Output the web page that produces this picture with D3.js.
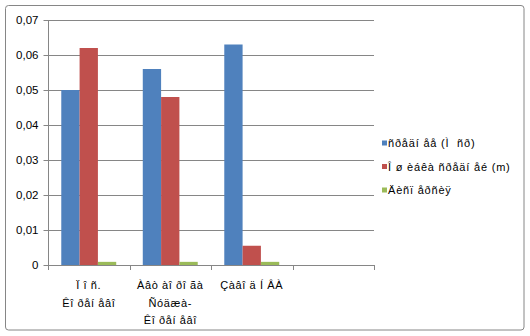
<!DOCTYPE html>
<html>
<head>
<meta charset="utf-8">
<script src="https://cdn.jsdelivr.net/npm/d3@7"></script>
<style>
  html, body { margin: 0; padding: 0; background: #fff; }
  svg { display: block; }
  text { font-family: "Liberation Sans", Arial, sans-serif; fill: #000; white-space: pre; }
</style>
</head>
<body>
<svg id="chart" width="530" height="336"></svg>
<script>
// Categories (each entry is a list of label lines); the last slot is empty
const categories = [
  ["Ï î ñ.", "Êî ðåí åâî"],
  ["Àâò àî ðî ãà", "Ñóäæà-", "Êî ðåí åâî"],
  ["Çàâî ä Í ÂÀ"],
  [""]
];
const seriesNames = ["ñðåäí åå (Ì  ñð)", "Î ø èáêà ñðåäí åé (m)", "Äèñï åðñèÿ"];
const seriesMean = [0.050, 0.056, 0.063, null];
const seriesError = [0.062, 0.048, 0.0055, null];
const seriesVariance = [0.0009, 0.0009, 0.0009, null];
const yTicks = [0, 0.01, 0.02, 0.03, 0.04, 0.05, 0.06, 0.07];
const colors = ["#4F81BD", "#C0504D", "#9BBB59"];

const seriesValues = [seriesMean, seriesError, seriesVariance];
const svg = d3.select("#chart");

// outer frame
svg.append("rect")
  .attr("x", 5.5).attr("y", 5.5).attr("width", 518.5).attr("height", 324.5)
  .attr("rx", 3).attr("fill", "#fff").attr("stroke", "#868686").attr("stroke-width", 1);

const plot = { left: 48, right: 374, top: 20, bottom: 265 };
const catIdx = categories.map((d, i) => i);

const x = d3.scaleBand().domain(catIdx).range([plot.left, plot.right]).paddingInner(0).paddingOuter(0);
const xs = d3.scaleBand().domain(d3.range(seriesNames.length)).range([0, x.bandwidth()])
  .paddingInner(0).paddingOuter(0.725);
const y = d3.scaleLinear().domain([0, 0.07]).range([plot.bottom, plot.top]);

const locale = d3.formatLocale({ decimal: ",", thousands: " ", grouping: [3], currency: ["", ""] });
const fmt = locale.format(".2f");

// horizontal gridlines
svg.append("g").selectAll("line")
  .data(yTicks.filter(d => d > 0))
  .join("line")
  .attr("x1", plot.left).attr("x2", plot.right)
  .attr("y1", d => Math.round(y(d)) + 0.5).attr("y2", d => Math.round(y(d)) + 0.5)
  .attr("stroke", "#868686").attr("stroke-width", 1);

// bars
const barG = svg.append("g");
seriesValues.forEach((vals, s) => {
  barG.append("g").selectAll("rect")
    .data(vals.map((v, i) => ({ v, i })).filter(d => d.v != null))
    .join("rect")
    .attr("x", d => x(d.i) + xs(s))
    .attr("width", xs.bandwidth())
    .attr("y", d => y(d.v))
    .attr("height", d => y(0) - y(d.v))
    .attr("fill", colors[s]);
});

// y axis
const yAxis = svg.append("g")
  .attr("transform", `translate(${plot.left + 0.5},0)`)
  .call(d3.axisLeft(y).tickValues(yTicks).tickSize(5).tickPadding(5)
    .tickFormat(d => d === 0 ? "0" : fmt(d)));
yAxis.selectAll("path, line").attr("stroke", "#868686");
yAxis.select(".domain").attr("d", `M0,${plot.top}V${plot.bottom}`);
yAxis.selectAll("text").attr("font-size", "11.5px").attr("fill", "#000")
  .style("font-family", '"Liberation Sans", Arial, sans-serif');

// x axis line and category separators
const xg = svg.append("g");
xg.append("line")
  .attr("x1", plot.left).attr("x2", plot.right)
  .attr("y1", plot.bottom + 0.5).attr("y2", plot.bottom + 0.5)
  .attr("stroke", "#868686");
xg.selectAll("line.sep")
  .data(catIdx.concat([catIdx.length]))
  .join("line").attr("class", "sep")
  .attr("x1", d => Math.round(d < catIdx.length ? x(d) : plot.right) + 0.5)
  .attr("x2", d => Math.round(d < catIdx.length ? x(d) : plot.right) + 0.5)
  .attr("y1", plot.bottom).attr("y2", plot.bottom + 5)
  .attr("stroke", "#868686");

// category labels
categories.forEach((lines, i) => {
  const t = svg.append("text")
    .attr("text-anchor", "middle")
    .attr("font-size", "11px")
    .attr("letter-spacing", "0.6px");
  lines.forEach((ln, k) => {
    t.append("tspan")
      .attr("x", x(i) + x.bandwidth() / 2)
      .attr("y", 289 + k * 17.5)
      .text(ln);
  });
});

// legend
const legend = svg.append("g").attr("transform", "translate(382,143)");
seriesNames.forEach((name, s) => {
  const g = legend.append("g").attr("transform", `translate(0,${s * 23.5})`);
  g.append("rect").attr("x", 0).attr("y", -2.5).attr("width", 5).attr("height", 5).attr("fill", colors[s]);
  g.append("text").attr("x", 6).attr("y", 4).attr("font-size", "11px")
    .attr("letter-spacing", "0.8px").text(name);
});
</script>
</body>
</html>
